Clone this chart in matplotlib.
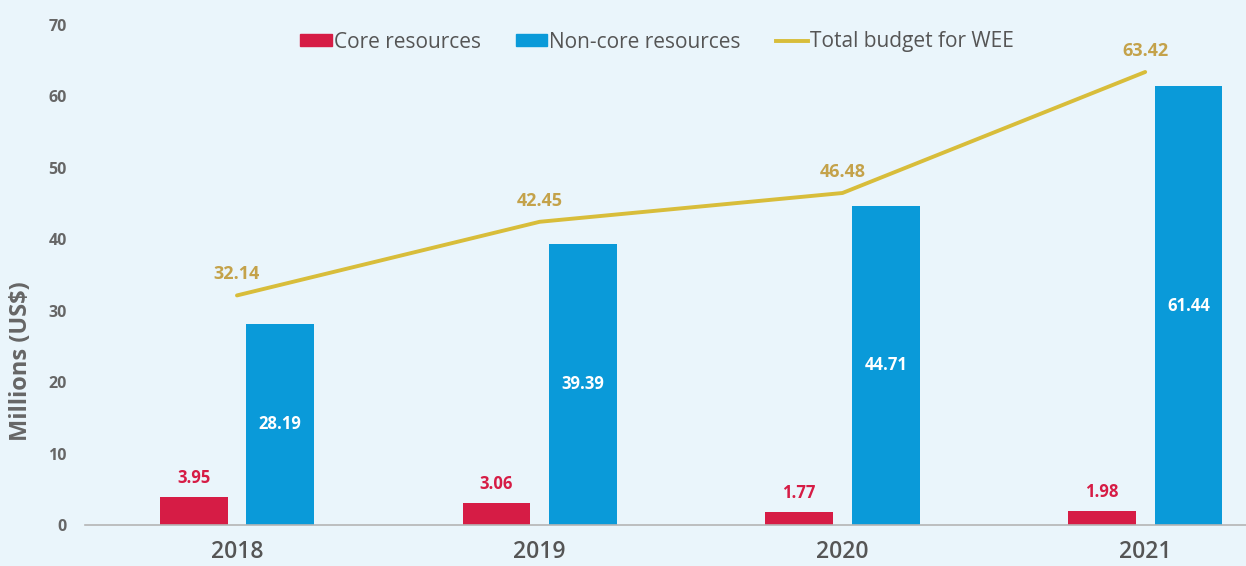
import matplotlib
matplotlib.use("Agg")
import matplotlib.pyplot as plt
from matplotlib.patches import Patch
from matplotlib.lines import Line2D
import numpy as np

years = ["2018", "2019", "2020", "2021"]
core = [3.95, 3.06, 1.77, 1.98]
noncore = [28.19, 39.39, 44.71, 61.44]
total = [32.14, 42.45, 46.48, 63.42]

BG = "#eaf5fb"
RED = "#d61c45"
BLUE = "#0a9ad9"
GOLD_LINE = "#d8bd3a"
GOLD_TXT = "#c4a24a"
GRAY = "#666666"

plt.rcParams['font.family'] = ['Open Sans', 'DejaVu Sans']

fig = plt.figure(figsize=(12.46, 5.66), dpi=100, facecolor=BG)
ax = fig.add_axes([85/1246, 1-525/566, 1-85/1246, 500/566])
ax.set_facecolor(BG)

x = np.arange(len(years))
w = 0.224
off = 0.143
ax.bar(x - off, core, width=w, color=RED, zorder=2)
ax.bar(x + off, noncore, width=w, color=BLUE, zorder=2)
ax.plot(x, total, color=GOLD_LINE, lw=2.8, zorder=3, solid_capstyle='round')

for xi, v in zip(x, core):
    ax.text(xi - off, v + 1.4, f"{v:.2f}", ha='center', va='bottom', color=RED,
            fontsize=12, fontweight='bold')
for xi, v in zip(x, noncore):
    ax.text(xi + off, v / 2, f"{v:.2f}", ha='center', va='center', color='white',
            fontsize=12, fontweight='bold')
for xi, v in zip(x, total):
    ax.text(xi, v + 1.7, f"{v:.2f}", ha='center', va='bottom', color=GOLD_TXT,
            fontsize=13, fontweight='bold')

ax.set_ylim(0, 70)
ax.set_xlim(-0.502, 3.333)
ax.set_yticks(range(0, 71, 10))
ax.tick_params(axis='y', length=0, pad=13, labelsize=11.5, labelcolor=GRAY)
ax.set_xticks(x)
ax.set_xticklabels(years)
ax.tick_params(axis='x', length=0, pad=11, labelsize=16.5, labelcolor="#555555")
for lab in ax.get_yticklabels():
    lab.set_fontweight('bold')
for lab in ax.get_xticklabels():
    lab.set_fontweight('semibold')

for s in ['top', 'right', 'left']:
    ax.spines[s].set_visible(False)
ax.spines['bottom'].set_color("#b5b5b5")
ax.spines['bottom'].set_linewidth(1.2)

ax.set_ylabel("Millions (US$)", fontsize=17, fontweight='bold', color=GRAY)
ax.yaxis.set_label_coords(-(85 - 33) / 1161, (525 - 361) / 500)

handles = [Patch(color=RED, label="Core resources"),
           Patch(color=BLUE, label="Non-core resources"),
           Line2D([0], [0], color=GOLD_LINE, lw=2.8, label="Total budget for WEE")]
leg = fig.legend(handles=handles, loc='center', bbox_to_anchor=(657/1246, 1-42/566),
                 ncol=3, frameon=False, fontsize=15, handlelength=1.5, handleheight=0.55,
                 handletextpad=0.1, columnspacing=1.7, labelcolor="#555555")

fig.savefig("out.png", dpi=100, facecolor=BG)
